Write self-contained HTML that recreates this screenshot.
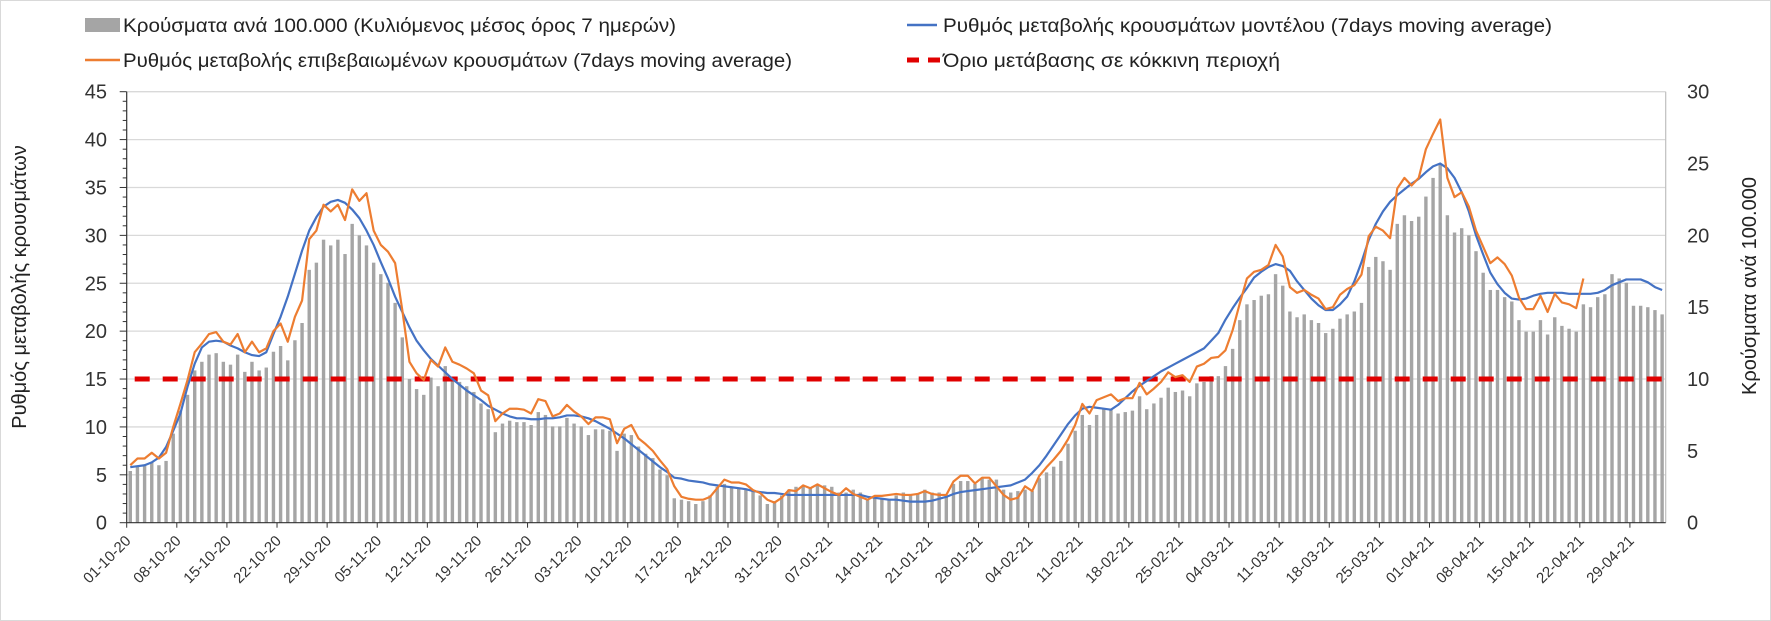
<!DOCTYPE html>
<html><head><meta charset="utf-8">
<style>
html,body{margin:0;padding:0;background:#fff;}
svg{display:block;font-family:"Liberation Sans","DejaVu Sans",sans-serif;}
</style></head>
<body>
<svg id="chart" width="1771" height="621" viewBox="0 0 1771 621" xmlns="http://www.w3.org/2000/svg">
<rect x="0.5" y="0.5" width="1770" height="620" fill="#fff" stroke="#d9d9d9"/>
<g id="grid"></g>
<g id="bars"></g>
<g id="lines"></g>
<g id="axes"></g>
<text transform="translate(26,287) rotate(-90)" text-anchor="middle" font-size="20" fill="#222">Ρυθμός μεταβολής κρουσμάτων</text>
<text transform="translate(1756,286) rotate(-90)" text-anchor="middle" font-size="20" fill="#222">Κρούσματα ανά 100.000</text>
<g>
 <g>
  <rect x="85" y="18" width="35" height="14" fill="#a5a5a5"/>
  <text x="123" y="32" font-size="19" fill="#222" textLength="553" lengthAdjust="spacingAndGlyphs">Κρούσματα ανά 100.000 (Κυλιόμενος μέσος όρος 7 ημερών)</text>
 </g>
 <g>
  <line x1="85" y1="60" x2="120" y2="60" stroke="#ed7d31" stroke-width="2.5"/>
  <text x="123" y="67" font-size="19" fill="#222" textLength="669" lengthAdjust="spacingAndGlyphs">Ρυθμός μεταβολής επιβεβαιωμένων κρουσμάτων (7days moving average)</text>
 </g>
 <g>
  <line x1="907" y1="25" x2="937" y2="25" stroke="#4472c4" stroke-width="2.5"/>
  <text x="943" y="32" font-size="19" fill="#222" textLength="609" lengthAdjust="spacingAndGlyphs">Ρυθμός μεταβολής κρουσμάτων μοντέλου (7days moving average)</text>
 </g>
 <g>
  <line x1="907" y1="60" x2="940" y2="60" stroke="#e00000" stroke-width="5" stroke-dasharray="12 9"/>
  <text x="943" y="67" font-size="19" fill="#222" textLength="337" lengthAdjust="spacingAndGlyphs">Όριο μετάβασης σε κόκκινη περιοχή</text>
 </g>
</g>
</svg>
<script>
const dateLabels = ["01-10-20","08-10-20","15-10-20","22-10-20","29-10-20","05-11-20","12-11-20","19-11-20","26-11-20","03-12-20","10-12-20","17-12-20","24-12-20","31-12-20","07-01-21","14-01-21","21-01-21","28-01-21","04-02-21","11-02-21","18-02-21","25-02-21","04-03-21","11-03-21","18-03-21","25-03-21","01-04-21","08-04-21","15-04-21","22-04-21","29-04-21"];
const leftTicks = [0,5,10,15,20,25,30,35,40,45];
const rightTicks = [0,5,10,15,20,25,30];
const thresholdValue = [15];
const casesPer100k = [
3.6,3.9,4.0,4.2,4.0,4.3,6.2,7.8,8.9,10.6,
11.2,11.7,11.8,11.2,11.0,11.7,10.5,11.2,10.6,10.8,
11.9,12.3,11.3,12.7,13.9,17.6,18.1,19.7,19.3,19.7,
18.7,20.8,20.0,19.3,18.1,17.3,16.7,15.3,12.9,10.0,
9.3,8.9,10.1,9.5,10.9,10.0,9.8,9.5,9.1,8.3,
7.9,6.3,6.9,7.1,7.0,7.0,6.8,7.7,7.5,6.7,6.7,
7.3,6.9,6.7,6.1,6.5,6.5,6.4,5.0,6.2,6.1,5.3,4.8,4.5,3.7,
3.3,1.7,1.6,1.5,1.3,1.5,1.9,2.5,2.7,2.5,
2.4,2.3,2.2,1.9,1.3,1.5,1.9,2.3,2.5,2.5,
2.4,2.6,2.6,2.5,2.1,2.1,2.3,2.1,1.6,1.8,
1.7,1.6,1.9,2.1,2.0,2.0,2.3,2.1,2.1,1.9,
2.7,2.9,2.9,2.7,3.1,3.0,3.0,2.3,2.1,2.2,
2.3,2.2,3.1,3.5,3.9,4.3,5.5,6.4,7.5,6.8,7.5,
7.9,7.9,7.6,7.7,7.8,8.8,7.9,8.3,8.7,9.4,
9.1,9.2,8.8,9.7,9.8,10.2,10.2,10.9,12.1,14.1,
15.2,15.5,15.8,15.9,17.3,16.5,14.7,14.3,14.5,14.1,
13.9,13.2,13.5,14.2,14.5,14.7,15.3,17.8,18.5,
18.2,17.6,20.8,21.4,21,21.3,22.7,24,25,21.4,
20.2,20.5,20,18.9,17.4,16.2,16.2,15.7,15.4,14.1,
13.3,13.3,14.1,13.1,14.3,13.7,13.5,13.3,15.2,15,
15.7,15.9,17.3,17,16.7,15.1,15.1,15,14.8,14.5];
const modelRate = [
5.8,5.9,6.0,6.3,6.8,7.9,9.6,11.4,14.2,16.6,
18.3,18.9,19.0,18.9,18.5,18.2,17.8,17.5,17.4,17.8,
19.7,21.5,23.6,26.0,28.4,30.5,31.9,33.0,33.5,33.7,
33.4,32.7,31.8,30.5,29.0,27.2,25.5,23.6,22.0,20.4,
19.0,18.0,17.1,16.4,15.7,15.0,14.4,13.8,13.3,12.8,
12.2,11.8,11.4,11.1,10.9,10.9,10.8,10.8,10.9,10.9,
11.0,11.2,11.2,11.1,10.9,10.6,10.2,9.8,9.3,8.8,
8.2,7.6,7.0,6.4,5.8,5.3,4.7,4.6,4.4,4.3,
4.2,4.0,3.9,3.8,3.7,3.6,3.5,3.3,3.2,3.1,
3.1,3.0,2.9,2.9,2.9,2.9,2.9,2.9,2.9,2.9,
2.9,2.9,2.9,2.7,2.6,2.5,2.4,2.4,2.3,2.2,
2.2,2.2,2.3,2.5,2.7,3.0,3.2,3.3,3.4,3.5,
3.6,3.7,3.8,3.9,4.2,4.5,5.2,6.0,7.0,8.1,
9.2,10.3,11.2,11.9,12.1,12.0,11.9,11.8,12.3,13.0,
13.7,14.3,14.8,15.3,15.8,16.2,16.6,17.0,17.4,17.8,
18.2,19.0,19.8,21.2,22.4,23.5,24.5,25.6,26.2,26.7,
27.0,26.8,26.3,25.2,24.3,23.4,22.7,22.2,22.2,22.8,
23.6,25.2,27.2,29.5,31.2,32.5,33.5,34.2,34.8,35.4,
35.9,36.6,37.2,37.5,37.0,36.0,34.5,32.5,30.0,28.0,
26.1,24.9,24.0,23.4,23.3,23.4,23.7,23.9,24.0,24.0,
24.0,23.9,23.9,23.9,23.9,24.0,24.3,24.8,25.1,25.4,
25.4,25.4,25.1,24.6,24.3];
const confirmedRate = [
6.0,6.7,6.7,7.3,6.7,7.3,10,12.4,14.9,17.8,
18.7,19.7,19.9,18.9,18.6,19.7,17.8,18.9,17.8,18.2,
20,20.8,18.9,21.5,23.2,29.6,30.5,33.2,32.5,33.2,
31.6,34.8,33.6,34.4,30.5,29.0,28.3,27.1,22.2,16.8,
15.6,14.9,17,16.3,18.3,16.8,16.5,16.1,15.6,13.8,
13.3,10.6,11.4,11.9,11.9,11.8,11.4,12.9,12.7,11.1,
11.4,12.3,11.6,11.1,10.3,11,11,10.8,8.3,9.8,
10.2,8.8,8.2,7.5,6.5,5.6,3.8,2.7,2.5,2.4,
2.4,2.7,3.6,4.5,4.2,4.2,4.0,3.4,3.1,2.4,
2.1,2.6,3.4,3.3,3.9,3.6,4.0,3.6,3.2,2.9,
3.6,3.0,2.7,2.4,2.8,2.8,2.9,3.0,2.9,2.9,
3.0,3.3,3.0,2.9,2.9,4.3,4.9,4.9,4.1,4.7,
4.7,3.8,2.9,2.4,2.6,3.8,3.3,4.9,5.8,6.6,
7.5,8.7,10.2,12.4,11.4,12.8,13.1,13.4,12.7,13,
13,14.6,13.4,14,14.7,15.7,15.2,15.4,14.7,16.3,
16.6,17.2,17.3,18,20.1,22.9,25.5,26.2,26.4,26.9,
29,27.8,24.6,24,24.3,23.8,23.4,22.3,22.5,23.8,
24.4,24.8,25.9,29.9,30.9,30.5,29.7,34.9,36,35.2,
36,39,40.6,42.1,36,34,34.5,33,30.5,28.8,
27.1,27.7,27,25.8,23.5,22.3,22.3,23.7,22,23.9,
23,22.8,22.4,25.5];

const NS="http://www.w3.org/2000/svg";
const X0=126.7, X1=1665.7, Y0=522.7, YT=91.7;
const N = casesPer100k.length;
const dw=(X1-X0)/N;
const LMAX=45, RMAX=30;
function xBand(i){return X0+dw*(i+0.5);}
function xEdge(i){return X0+dw*i;}
function yL(v){return Y0-(v/LMAX)*(Y0-YT);}
function yR(v){return Y0-(v/RMAX)*(Y0-YT);}
function mk(tag,attrs,parent){const e=document.createElementNS(NS,tag);for(const k in attrs)e.setAttribute(k,attrs[k]);parent.appendChild(e);return e;}

const grid=document.getElementById('grid');
leftTicks.forEach(v=>{if(v===0)return;
 const l=mk('line',{x1:X0,x2:X1,y1:yL(v),y2:yL(v),stroke:'#d9d9d9','stroke-width':1.3},grid);
 
 
});

const bars=document.getElementById('bars');
casesPer100k.forEach((v,i)=>{
 const r=mk('rect',{x:xBand(i)-1.7,y:yR(v),width:3.4,height:Y0-yR(v),fill:'#a5a5a5'},bars);
 
 
});

const lines=document.getElementById('lines');
const thr=mk('line',{x1:X0+8,x2:X1-4,y1:yL(thresholdValue[0]),y2:yL(thresholdValue[0]),stroke:'#e00000','stroke-width':5,'stroke-dasharray':'15 13'},lines);


function path(arr){let d='';arr.forEach((v,i)=>{if(v==null)return;d+=(d?'L':'M')+xBand(i).toFixed(2)+' '+yL(v).toFixed(2);});return d;}
const pb=mk('path',{d:path(modelRate),fill:'none',stroke:'#4472c4','stroke-width':2.2,'stroke-linejoin':'round'},lines);


const po=mk('path',{d:path(confirmedRate),fill:'none',stroke:'#ed7d31','stroke-width':2.2,'stroke-linejoin':'round'},lines);



const axes=document.getElementById('axes');
const la=mk('line',{x1:X0,x2:X0,y1:YT,y2:Y0,stroke:'#333','stroke-width':1.2},axes);


const ra=mk('line',{x1:X1,x2:X1,y1:YT,y2:Y0,stroke:'#bfbfbf','stroke-width':1.2},axes);


const xa=mk('line',{x1:X0,x2:X1,y1:Y0,y2:Y0,stroke:'#333','stroke-width':1.2},axes);


for(let v=0;v<=LMAX;v++){
 const major=v%5===0;
 const t=mk('line',{x1:X0-(major?7:4),x2:X0,y1:yL(v),y2:yL(v),stroke:'#333','stroke-width':1},axes);
 
 
}
leftTicks.forEach(v=>{
 const t=mk('text',{x:107,y:yL(v)+7,'text-anchor':'end','font-size':20,fill:'#333'},axes);
 t.textContent=v;
 
 
});
rightTicks.forEach(v=>{
 const t=mk('text',{x:1687,y:yR(v)+7,'font-size':20,fill:'#333'},axes);
 t.textContent=v;
 
 
});
dateLabels.forEach((s,k)=>{
 const x=xEdge(k*7);
 const t=mk('line',{x1:x,x2:x,y1:Y0,y2:Y0+5,stroke:'#333','stroke-width':1},axes);
 
 
 const tx=mk('text',{x:x+5,y:Y0+19,'text-anchor':'end','font-size':15,fill:'#333',transform:'rotate(-45 '+(x+5)+' '+(Y0+19)+')'},axes);
 tx.textContent=s;
 
 
});
</script>
</body></html>
